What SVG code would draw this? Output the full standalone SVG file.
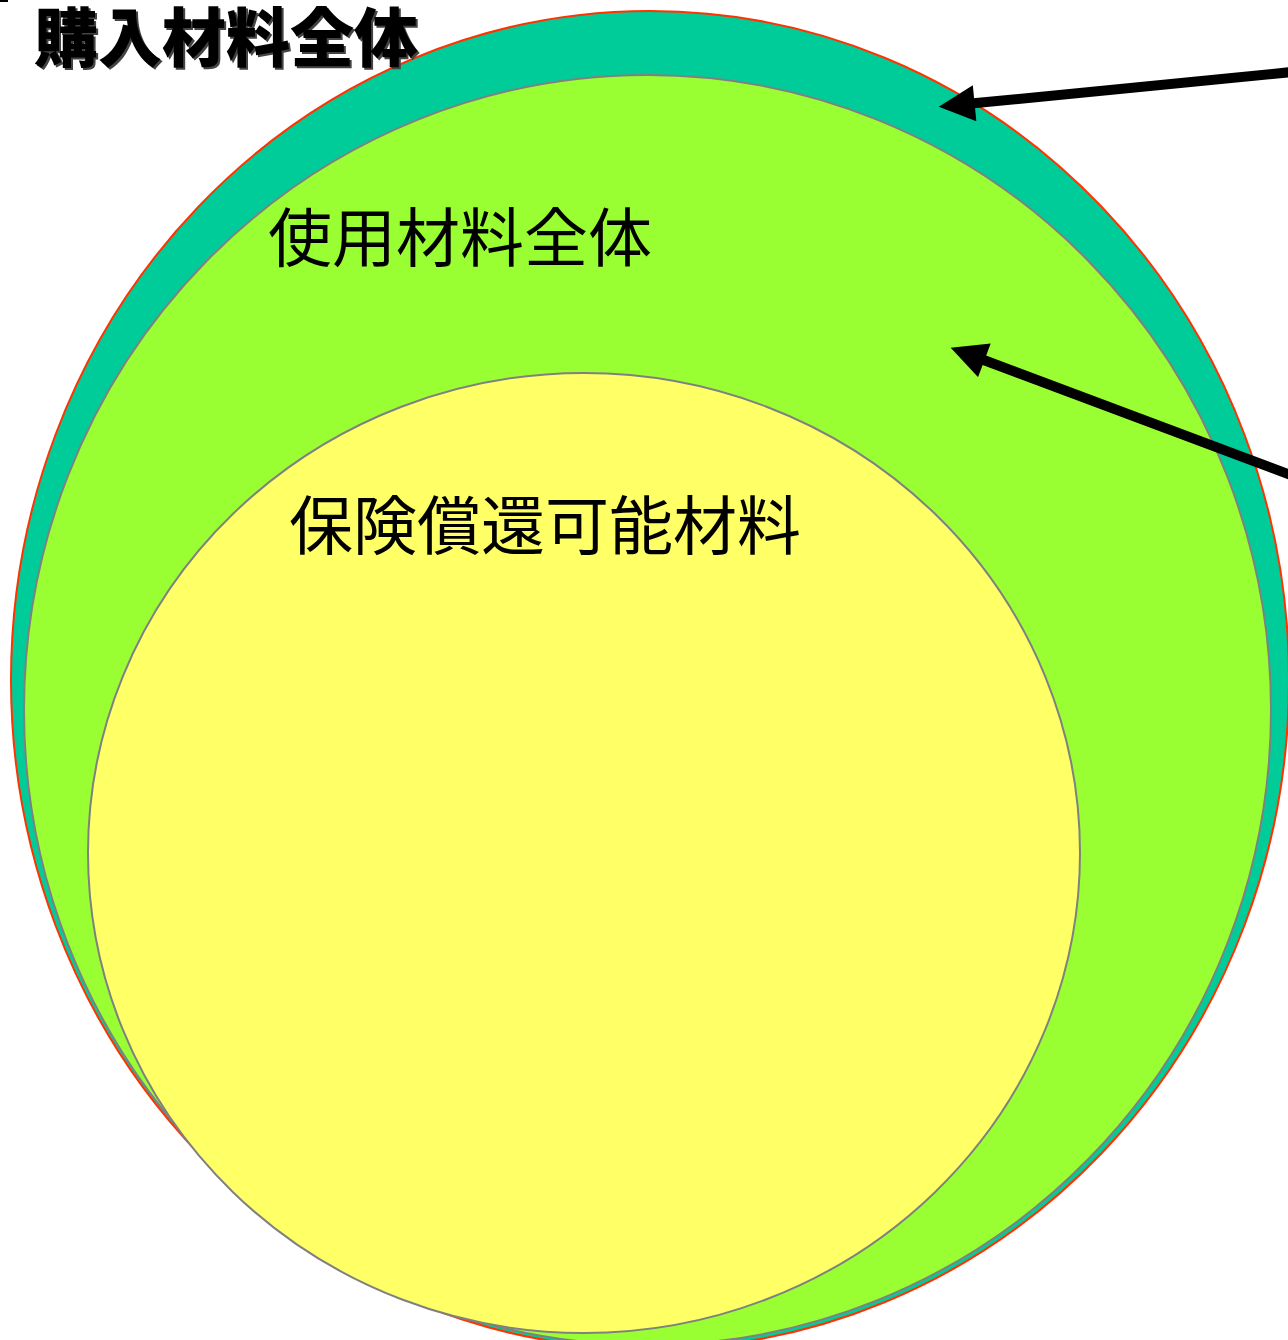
<svg xmlns="http://www.w3.org/2000/svg" width="1288" height="1340" viewBox="0 0 1288 1340">
  <style>
    .lbl { font-family: "Noto Sans CJK JP", "Noto Sans CJK SC", sans-serif; font-size: 64px; fill: #000000; }
    .title { font-family: "Noto Sans CJK JP", "Noto Sans CJK SC", sans-serif; font-size: 64px; font-weight: 900; }
    .arrow { stroke: #000000; stroke-width: 10; fill: none; marker-end: url(#head); }
  </style>
  <defs>
    <marker id="head" viewBox="0 0 10 10" refX="1" refY="5" markerWidth="3.8" markerHeight="3.6" markerUnits="strokeWidth" orient="auto">
      <path d="M0,0 L10,5 L0,10 z" fill="#000000"/>
    </marker>
  </defs>
  <rect width="1288" height="1340" fill="#ffffff"/>
  <g id="purchased">
    <ellipse cx="650" cy="680" rx="639" ry="669" fill="#00CC99" stroke="#FF3300" stroke-width="2"/>
  </g>
  <g id="used">
    <ellipse cx="647.5" cy="710" rx="623.5" ry="635" fill="#99FF33" stroke="#808080" stroke-width="2"/>
    <text class="lbl" x="268" y="261">使用材料全体</text>
  </g>
  <g id="reimbursable">
    <ellipse cx="584" cy="853" rx="496" ry="480" fill="#FFFF66" stroke="#808080" stroke-width="2"/>
    <text class="lbl" x="289" y="549">保険償還可能材料</text>
  </g>
  <g id="title">
    <text class="title" x="36" y="63" fill="#444444">購入材料全体</text>
    <text class="title" x="34" y="61" fill="#000000">購入材料全体</text>
  </g>
  <rect x="0" y="0" width="8" height="2" fill="#000000"/>
  <g id="connectors">
    <line class="arrow" x1="1292" y1="72" x2="971" y2="103.6"/>
    <line class="arrow" x1="1292" y1="475.5" x2="981" y2="359"/>
  </g>
</svg>
